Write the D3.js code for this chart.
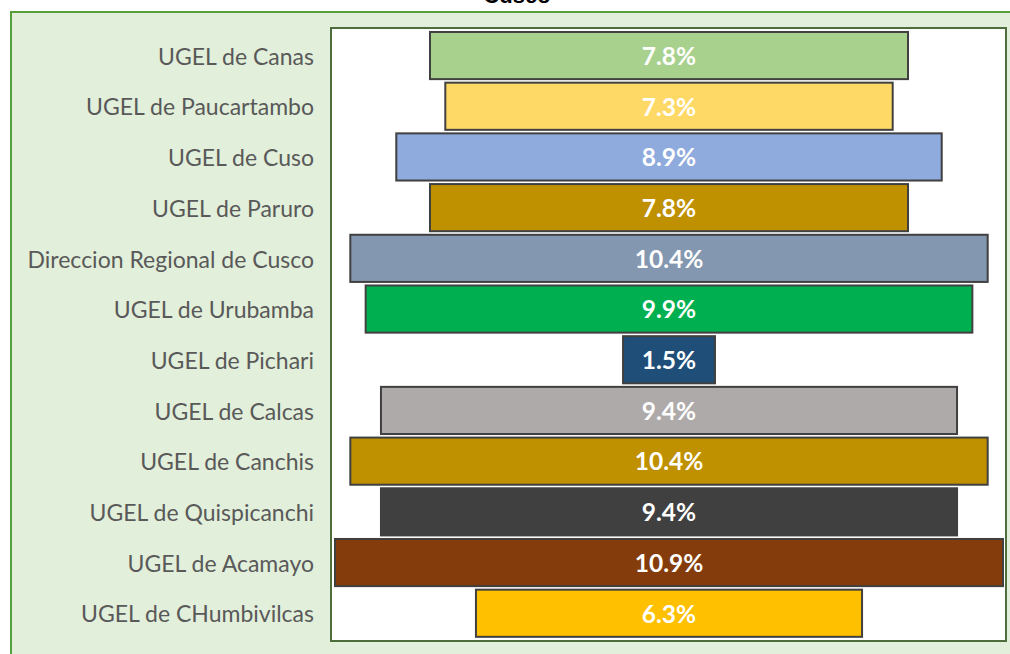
<!DOCTYPE html>
<html><head><meta charset="utf-8">
<script src="https://cdn.jsdelivr.net/npm/d3@7"></script>
<style>html,body{margin:0;padding:0;background:#fff;}svg{display:block;}</style>
</head><body>
<svg id="c" width="1010" height="654"></svg>
<script>
const categories = ["UGEL de Canas","UGEL de Paucartambo","UGEL de Cuso","UGEL de Paruro","Direccion Regional de Cusco","UGEL de Urubamba","UGEL de Pichari","UGEL de Calcas","UGEL de Canchis","UGEL de Quispicanchi","UGEL de Acamayo","UGEL de CHumbivilcas"];
const values = [7.8,7.3,8.9,7.8,10.4,9.9,1.5,9.4,10.4,9.4,10.9,6.3];
const colors = ["#A9D18E","#FFD966","#8FAADC","#BF9000","#8497B0","#00B050","#1F4E79","#AEAAAA","#BF9000","#404040","#843C0C","#FFC000"];
const title = "Cusco";

const svg = d3.select("#c");
// outer chart area
svg.append("rect").attr("x",11).attr("y",12).attr("width",1010).attr("height",660)
  .attr("fill","#E2EFDA").attr("stroke","#55A03A").attr("stroke-width",2);
svg.append("text").attr("x",517).attr("y",3).attr("text-anchor","middle")
  .attr("font-family","Liberation Sans, Arial").attr("font-weight","bold").attr("font-size",22)
  .attr("fill","#000").text(title);

const plot = {x0:331, x1:1006, y0:28, y1:641};
svg.append("rect").attr("x",plot.x0).attr("y",plot.y0).attr("width",plot.x1-plot.x0).attr("height",plot.y1-plot.y0)
  .attr("fill","#fff").attr("stroke","#4F6E3D").attr("stroke-width",2);

const cx = 669;
const x = d3.scaleLinear().domain([0,10.9]).range([0,668]);
const y = d3.scaleBand().domain(categories).range([30.2,638.6]).paddingInner(0.07).paddingOuter(0.035);

const g = svg.append("g");
g.selectAll("rect.bar").data(categories).join("rect").attr("class","bar")
  .attr("x",(d,i)=>cx - x(values[i])/2).attr("y",d=>y(d))
  .attr("width",(d,i)=>x(values[i])).attr("height",y.bandwidth())
  .attr("fill",(d,i)=>colors[i]).attr("stroke","#404040").attr("stroke-width",2);

g.selectAll("text.val").data(categories).join("text").attr("class","val")
  .attr("x",cx).attr("y",d=>y(d)+y.bandwidth()/2).attr("dy","0.38em")
  .attr("text-anchor","middle").attr("font-family","Lato, Open Sans, sans-serif").attr("font-weight","bold")
  .attr("font-size",24.5).attr("fill","#fff").text((d,i)=>values[i].toFixed(1)+"%");

const yAxis = d3.axisLeft(y).tickSize(0).tickPadding(0);
const ax = svg.append("g").attr("transform","translate(314,0)").call(yAxis);
ax.select(".domain").remove();
ax.selectAll("text").attr("font-family","Lato, Open Sans, sans-serif").attr("font-size",23).attr("fill","#595959").attr("dy","0.4em");
</script>
</body></html>
